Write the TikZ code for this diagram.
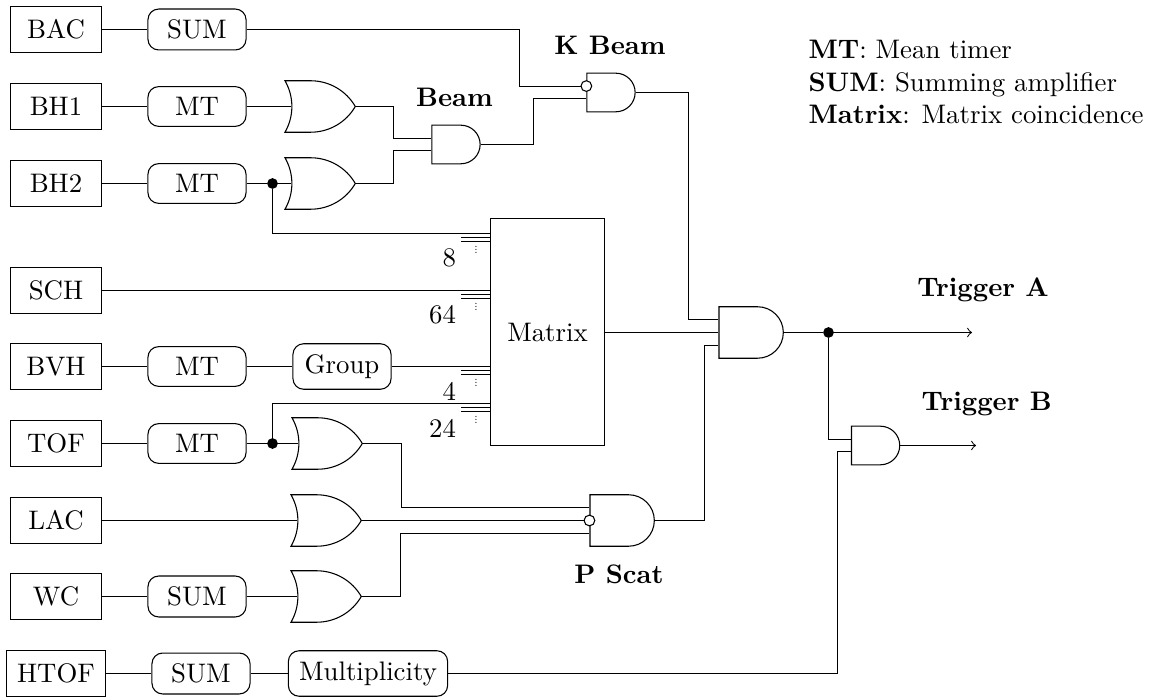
\documentclass[tikz,border=0pt]{standalone}
\usepackage{amsmath,amssymb}
\usepackage{tikz}
\usetikzlibrary{shapes.gates.logic.US}
\tikzset{
  srcbox/.style={draw, minimum width=34pt, minimum height=17pt, inner sep=4pt},
  procbox/.style={draw, rounded corners=4pt, minimum width=36.6pt, inner sep=4pt},
  andgate/.style={and gate US, draw, logic gate input sep=4.6pt, inner sep=0pt},
  orgate/.style={or gate US, draw, logic gate inputs=nnn, logic gate input sep=4.6pt, inner sep=0pt},
  junction/.style={circle, fill, inner sep=0pt, minimum size=4pt},
  invdot/.style={circle, draw, fill=white, inner sep=0pt, minimum size=4pt},
  title/.style={font=\bfseries},
}
\begin{document}
\begin{tikzpicture}[x=0.3731pt, y=-0.3731pt]

    \useasboundingbox (0,0) rectangle (1149,697);

    % Detector row x positions
    \def\Xsrc{56}
    \def\Xproc{197}

    % Detectors
    \node[srcbox] (bac)  at (\Xsrc,29.5) {BAC};
    \node[srcbox] (bhone) at (\Xsrc,106.5) {BH1};
    \node[srcbox] (bhtwo) at (\Xsrc,183.5) {BH2};
    \node[srcbox] (sch)  at (\Xsrc,290.5) {SCH};
    \node[srcbox] (bvh)  at (\Xsrc,366.5) {BVH};
    \node[srcbox] (tof)  at (\Xsrc,443.5) {TOF};
    \node[srcbox] (lac)  at (\Xsrc,520.5) {LAC};
    \node[srcbox] (wc)   at (\Xsrc,596.5) {WC};
    \node[srcbox] (htof) at (56,673.5) {HTOF};

    % Amplifiers and timers
    \node[procbox] (sumbac) at (\Xproc,29.5) {SUM};
    \node[procbox] (mtbhone) at (\Xproc,106.5) {MT};
    \node[procbox] (mtbhtwo) at (\Xproc,183.5) {MT};
    \node[procbox] (mtbvh) at (\Xproc,366.5) {MT};
    \node[procbox] (group) at (342,366.5) {Group};
    \node[procbox] (mttof) at (\Xproc,443.5) {MT};
    \node[procbox] (sumwc) at (\Xproc,596.5) {SUM};
    \node[procbox] (sumhtof) at (201,673.5) {SUM};
    \node[procbox] (mult) at (368,673.5) {Multiplicity};

    % OR gates
    \node[orgate] (orbhone) at (315,106.5) {};
    \node[orgate] (orbhtwo) at (315,183.5) {};
    \node[orgate] (ortof) at (322,443.5) {};
    \node[orgate] (orlac) at (321,520.5) {};
    \node[orgate] (orwc) at (321,596.5) {};

    % AND gates
    \node[andgate, logic gate inputs=nn] (beam) at (454.4,144.5) {};
    \node[andgate, logic gate inputs=nn] (kbeam) at (609.4,92.5) {};
    \node[andgate, logic gate inputs=nnn] (pscat) at (620,520.5) {};
    \node[andgate, logic gate inputs=nnn] (triga) at (749,332.5) {};
    \node[andgate, logic gate inputs=nn] (trigb) at (874,445.5) {};

    % Matrix coincidence
    \node[draw, minimum width=42.2pt, minimum height=84.7pt, inner sep=0pt] (matrix) at (547.5,332) {Matrix};

    % Junctions and bus ends
    \node[junction] (jbh) at (272.5,183.5) {};
    \node[junction] (jtof) at (272.5,443.5) {};
    \node[junction] (jtrig) at (828.5,332.5) {};
    \coordinate (bus8) at (461,233.5);
    \coordinate (bus64) at (461,290.5);
    \coordinate (bus4) at (461,366.5);
    \coordinate (bus24) at (461,403.5);
    \coordinate (enda) at (972,332.5);
    \coordinate (endb) at (976,445.5);

    % Input chains
    \draw (bac) -- (sumbac);
    \draw (bhone) -- (mtbhone);
    \draw (mtbhone) -- (orbhone.input 2);
    \draw (bhtwo) -- (mtbhtwo);
    \draw (mtbhtwo) -- (jbh) -- (orbhtwo.input 2);
    \draw (bvh) -- (mtbvh);
    \draw (mtbvh) -- (group);
    \draw (tof) -- (mttof);
    \draw (mttof) -- (jtof) -- (ortof.input 2);
    \draw (lac) -- (orlac.input 2);
    \draw (wc) -- (sumwc);
    \draw (sumwc) -- (orwc.input 2);
    \draw (htof) -- (sumhtof);
    \draw (sumhtof) -- (mult);

    % Beam and K Beam
    \draw (orbhone.output) -- ++(38,0) |- (beam.input 1);
    \draw (orbhtwo.output) -- ++(38,0) |- (beam.input 2);
    \draw (sumbac.east) -- ++(272.7,0) |- (kbeam.input 1);
    \draw (beam.output) -- ++(53,0) |- (kbeam.input 2);
    \node[invdot] at (kbeam.input 1) {};

    % Matrix inputs, with the extra lines of each bus
    \draw (jbh) |- (bus8 -| matrix.west);
    \draw (sch) -- (bus64 -| matrix.west);
    \draw (group) -- (bus4 -| matrix.west);
    \draw (jtof) |- (bus24 -| matrix.west);
    \foreach \bus in {bus8,bus64,bus4,bus24} {
        \draw (\bus) ++(0,4) -- ++(30,0);
        \draw (\bus) ++(0,8) -- ++(30,0);
        \node[scale=0.28, font=\bfseries] at ([shift={(15,13.7)}]\bus) {$\vdots$};
    }

    % Bus widths
    \node[left] at (465.5,258) {8};
    \node[left] at (465.5,315) {64};
    \node[left] at (465.5,391.5) {4};
    \node[left] at (465.5,428) {24};

    % P Scat
    \draw (ortof.output) -- ++(38.7,0) |- (pscat.input 1);
    \draw (orlac.output) -- (pscat.input 2);
    \draw (orwc.output) -- ++(38.7,0) |- (pscat.input 3);
    \node[invdot] at (pscat.input 2) {};

    % Triggers
    \draw (kbeam.output) -- ++(53,0) |- (triga.input 1);
    \draw (matrix.east |- triga.input 2) -- (triga.input 2);
    \draw (pscat.output) -- ++(49.7,0) |- (triga.input 3);
    \draw[->] (triga.output) -- (jtrig) -- (enda);
    \draw (jtrig) |- (trigb.input 1);
    \draw (mult.east) -- ++(389.3,0) |- (trigb.input 2);
    \draw[->] (trigb.output) -- (endb);

    % Labels
    \node[title] at (610,45) {K Beam};
    \node[title] at (454.5,97) {Beam};
    \node[title] at (619,574) {P Scat};
    \node[title] at (983,290) {Trigger A};
    \node[title] at (986.7,404) {Trigger B};

    % Legend
    \node[anchor=west, align=left, inner sep=0pt] at (808,82) {\textbf{MT}: Mean timer\\\textbf{SUM}: Summing amplifier\\\textbf{Matrix}: Matrix coincidence};

\end{tikzpicture}
\end{document}
